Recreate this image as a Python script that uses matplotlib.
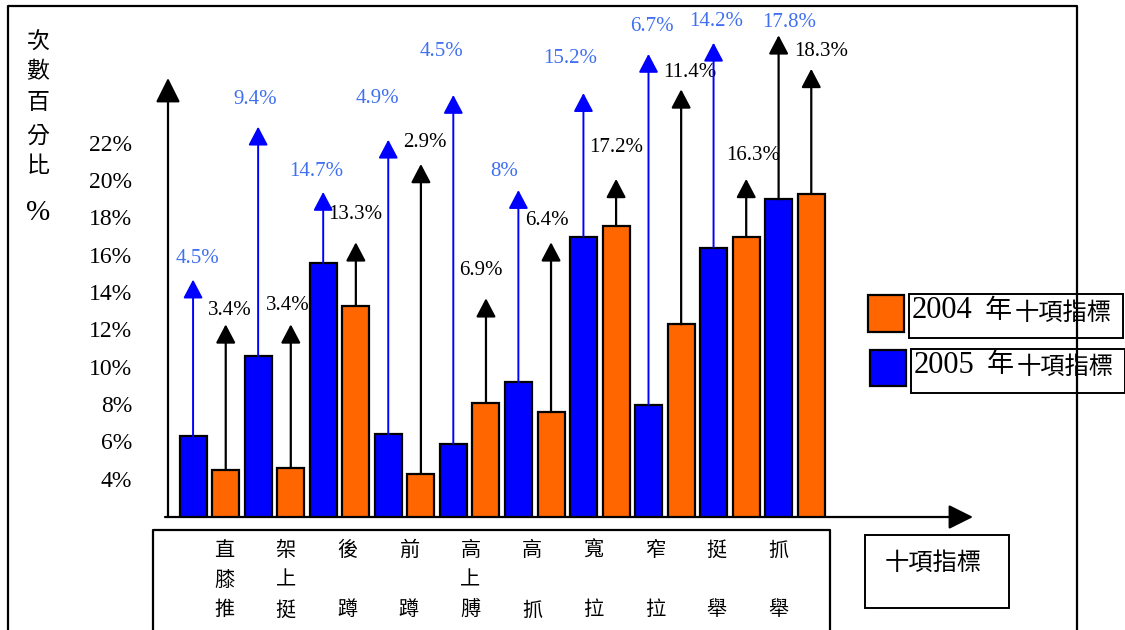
import matplotlib
matplotlib.use('Agg')
import numpy as np
import matplotlib.pyplot as plt
from matplotlib.patches import Rectangle
from matplotlib.transforms import blended_transform_factory

# ten training indicators, values in percent
categories = ['直膝推', '架上挺', '後蹲', '前蹲', '高上膊', '高抓', '寬拉', '窄拉', '挺舉', '抓舉']
vals_2005 = [6.4, 10.7, 15.7, 6.5, 6.0, 9.3, 17.1, 8.1, 16.5, 19.1]
vals_2004 = [4.6, 4.7, 13.4, 4.4, 8.2, 7.7, 17.7, 12.4, 17.1, 19.4]

# arrow tips above each bar and the text written at them
tips_2005 = [14.8, 23.0, 19.5, 22.3, 24.7, 19.6, 24.8, 26.9, 27.5, 27.9]
tips_2004 = [12.4, 12.4, 16.8, 21.0, 13.8, 16.8, 20.2, 25.0, 20.2, 26.1]
labels_2005 = ['4.5%', '9.4%', '14.7%', '4.9%', '4.5%', '8%', '15.2%', '6.7%', '14.2%', '17.8%']
labels_2004 = ['3.4%', '3.4%', '13.3%', '2.9%', '6.9%', '6.4%', '17.2%', '11.4%', '16.3%', '18.3%']

yticks = [4, 6, 8, 10, 12, 14, 16, 18, 20, 22]

# where the arrow texts sit relative to the arrow tip (pixels, right / up)
offs_2005 = [(4, 21), (-3, 27), (-7, 20), (-11, 41), (-12, 43), (-14, 19), (-13, 35), (3, 27), (3, 21), (11, 13)]
offs_2004 = [(4, 14), (-3, 19), (-1, 28), (4, 21), (-5, 28), (-4, 22), (0, 31), (9, 17), (7, 23), (10, 17)]

BLUE = '#0000FF'
ORANGE = '#FF6600'
LABEL_BLUE = '#4070F0'
SERIF = 'Liberation Serif'
CJK = ['Noto Sans CJK TC', 'DejaVu Sans']

W, H = 1125, 630


def fx(x):
    return x / W


def fy(y):
    return 1 - y / H


fig = plt.figure(figsize=(W / 100, H / 100), dpi=100)
fig.patch.set_facecolor('white')

# plot area: 65 px per category, 18.65 px per percent, floor at 517 px
ax = fig.add_axes([0, fy(517), 1, 517 / H])
ax.set_xlim(-209.4 / 65.06, (W - 209.4) / 65.06)
ax.set_ylim(2.07, 2.07 + 517 / 18.65)
ax.axis('off')

x = np.arange(len(categories))
off, bw = 0.251, 0.415
ax.bar(x - off, vals_2005, width=bw, color=BLUE, edgecolor='black', lw=1.6, zorder=2)
ax.bar(x + off, vals_2004, width=bw, color=ORANGE, edgecolor='black', lw=1.6, zorder=2)


def arrow(xpos, y0, y1, color, lw):
    ax.annotate('', xy=(xpos, y1), xytext=(xpos, y0), annotation_clip=False,
                arrowprops=dict(arrowstyle='-|>,head_length=0.95,head_width=0.5',
                                color=color, lw=lw, mutation_scale=12,
                                shrinkA=0, shrinkB=0), zorder=3)


for i in range(len(categories)):
    c = 'black' if i == len(categories) - 1 else BLUE
    arrow(x[i] - off, vals_2005[i], tips_2005[i], c, 1.4 if c == BLUE else 1.6)
    arrow(x[i] + off, vals_2004[i], tips_2004[i], 'black', 1.6)
    ax.annotate(labels_2005[i], xy=(x[i] - off, tips_2005[i]), xytext=offs_2005[i],
                textcoords='offset pixels', ha='center', va='center',
                color=LABEL_BLUE, family=SERIF, fontsize=15, annotation_clip=False)
    ax.annotate(labels_2004[i], xy=(x[i] + off, tips_2004[i]), xytext=offs_2004[i],
                textcoords='offset pixels', ha='center', va='center',
                color='black', family=SERIF, fontsize=15, annotation_clip=False)

# y tick texts
trans = blended_transform_factory(fig.transFigure, ax.transData)
for t in yticks:
    ax.text(fx(132), t, f'{t}%', transform=trans, ha='right', va='center',
            family=SERIF, fontsize=17)

# axes drawn as arrows
arr = dict(arrowstyle='-|>,head_length=1.0,head_width=0.5', color='black', lw=1.6,
           mutation_scale=15, shrinkA=0, shrinkB=0)
fig.add_artist(plt.Annotation('', xy=(fx(168), fy(78)), xytext=(fx(168), fy(517)),
                              xycoords='figure fraction', arrowprops=arr))
fig.add_artist(plt.Annotation('', xy=(fx(973), fy(517)), xytext=(fx(165), fy(517)),
                              xycoords='figure fraction', arrowprops=arr))

# y title written vertically
for ch, yy in zip('次數百分比', [42.7, 71.7, 102.7, 136.7, 166.7]):
    fig.text(fx(38), fy(yy), ch, ha='center', va='center', family=CJK, fontsize=16.5)
fig.text(fx(38), fy(213), '%', ha='center', va='center', family=SERIF, fontsize=21)


def line(xs, ys, lw=1.6):
    fig.add_artist(plt.Line2D([fx(v) for v in xs], [fy(v) for v in ys],
                              color='black', lw=lw, transform=fig.transFigure))


def box(x0, y0, x1, y1, fc='white', lw=1.4):
    fig.add_artist(Rectangle((fx(x0), fy(y1)), fx(x1) - fx(x0), fy(y0) - fy(y1),
                             transform=fig.transFigure, fc=fc, ec='black', lw=lw))


# outer frame
line([8, 8, 1077, 1077], [640, 6, 6, 640])

# category box with vertical labels
line([152.7, 152.7, 830.4, 830.4], [640, 530, 530, 640])
for i, name in enumerate(categories):
    rows = [0, 1, 2] if len(name) == 3 else [0, 2]
    for ch, r in zip(name, rows):
        fig.text(fx(224 + 61.6 * i), fy(550.7 + 29.6 * r), ch, ha='center', va='center',
                 family=CJK, fontsize=14.5)

# x title box
box(864.5, 535.3, 1009, 608.3)
fig.text(fx(933), fy(563), '十項指標', ha='center', va='center', family=CJK, fontsize=17.5)

# legend
for k, (year, col) in enumerate([('2004', ORANGE), ('2005', BLUE)]):
    dy = 54.5 * k
    box(867.5 + 2 * k, 295 + dy, 903.5 + 2 * k, 331.7 + dy, fc=col, lw=1.6)
    box(909.3 + 2 * k, 294 + dy, 1122.7 + 2 * k, 338.3 + dy)
    fig.text(fx(911.5 + 2 * k), fy(311 + dy), year, ha='left', va='center',
             family=SERIF, fontsize=22)
    fig.text(fx(985 + 2 * k), fy(310 + dy), '年', ha='left', va='center',
             family=CJK, fontsize=19.5)
    fig.text(fx(1015 + 2 * k), fy(313 + dy), '十項指標', ha='left', va='center',
             family=CJK, fontsize=17.5)

fig.savefig('out.png', dpi=100)
